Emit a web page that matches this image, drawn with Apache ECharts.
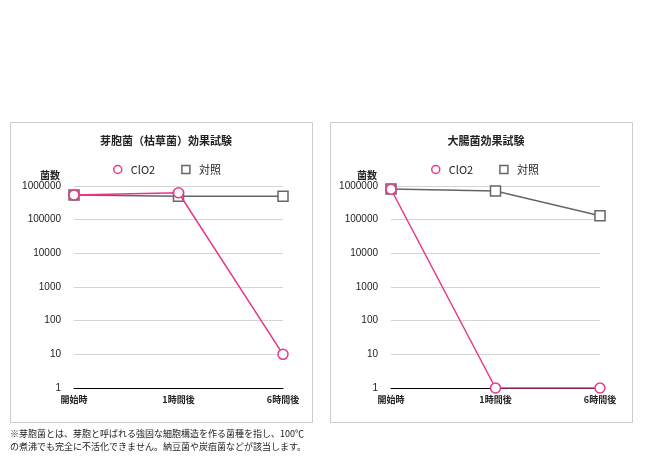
<!DOCTYPE html>
<html><head><meta charset="utf-8">
<script src="https://cdn.jsdelivr.net/npm/echarts@6/dist/echarts.min.js"></script>
<style>html,body{margin:0;padding:0;background:#fff}#c{width:650px;height:470px}</style>
</head><body><div id="c"></div>
<script>
const categories = ['開始時', '1時間後', '6時間後'];
const yTicks = [1, 10, 100, 1000, 10000, 100000, 1000000];
const titleA = '芽胞菌（枯草菌）効果試験';
const titleB = '大腸菌効果試験';
const clo2A = [540000, 630000, 10];
const ctrlA = [540000, 500000, 500000];
const clo2B = [800000, 1, 1];
const ctrlB = [820000, 710000, 130000];
const note1 = '※芽胞菌とは、芽胞と呼ばれる強固な細胞構造を作る菌種を指し、100℃';
const note2 = 'の煮沸でも完全に不活化できません。納豆菌や炭疽菌などが該当します。';

const FONT = '"Noto Sans CJK JP", "Liberation Sans", sans-serif';
const PINK = '#e8378a', GRAY = '#666666';
const chart = echarts.init(document.getElementById('c'), null, {renderer: 'canvas'});

function xAxis(i) {
  return {type: 'category', gridIndex: i, data: categories, boundaryGap: false,
    axisLine: {lineStyle: {color: '#000', width: 1}}, axisTick: {show: false},
    axisLabel: {color: '#222', fontSize: 9, fontWeight: 'bold', fontFamily: FONT, margin: 7}};
}
function yAxis(i) {
  return {type: 'log', logBase: 10, gridIndex: i, min: 1, max: 1000000,
    name: '菌数', nameLocation: 'end', nameGap: 6,
    nameTextStyle: {color: '#222', fontSize: 10, fontWeight: 'bold', fontFamily: FONT, align: 'center', padding: [0, 48, 0, 0]},
    axisLine: {show: false}, axisTick: {show: false},
    axisLabel: {color: '#222', fontSize: 10, fontFamily: '"Liberation Sans", sans-serif', margin: 13,
      formatter: v => yTicks.includes(Math.round(v)) ? String(Math.round(v)) : ''},
    splitLine: {lineStyle: {color: '#d4d4d4', width: 1}}};
}
function ser(name, data, i, sym, color) {
  return {name, type: 'line', xAxisIndex: i, yAxisIndex: i, data, symbol: sym, symbolSize: 10,
    lineStyle: {color, width: 1.5}, itemStyle: {color: '#fff', borderColor: color, borderWidth: 1.5},
    z: name === 'ClO2' ? 3 : 2};
}
function legend(left) {
  return {left, top: 159, itemWidth: 8, itemHeight: 8, itemGap: 26,
    textStyle: {fontSize: 11, color: '#222', fontFamily: FONT, padding: [0, 0, 0, 4]},
    data: [{name: 'ClO2', icon: 'circle', itemStyle: {color: '#fff', borderColor: PINK, borderWidth: 1.5}},
           {name: '対照', icon: 'rect', itemStyle: {color: '#fff', borderColor: GRAY, borderWidth: 1.5}}]};
}
chart.setOption({
  animation: false,
  title: [
    {text: titleA, left: 161, top: 130, textAlign: 'center', textStyle: {fontSize: 11, fontWeight: 'bold', color: '#222', fontFamily: FONT}},
    {text: titleB, left: 481, top: 130, textAlign: 'center', textStyle: {fontSize: 11, fontWeight: 'bold', color: '#222', fontFamily: FONT}}
  ],
  legend: [legend(108), legend(426)],
  grid: [
    {left: 74, width: 209, top: 186, height: 202},
    {left: 391, width: 209, top: 186, height: 202}
  ],
  xAxis: [xAxis(0), xAxis(1)],
  yAxis: [yAxis(0), yAxis(1)],
  series: [
    ser('対照', ctrlA, 0, 'rect', GRAY),
    ser('ClO2', clo2A, 0, 'circle', PINK),
    ser('対照', ctrlB, 1, 'rect', GRAY),
    ser('ClO2', clo2B, 1, 'circle', PINK)
  ],
  graphic: [
    {type: 'rect', shape: {x: 10.5, y: 122.5, width: 302, height: 300}, style: {fill: 'none', stroke: '#cccccc', lineWidth: 1}, silent: true, z: -1},
    {type: 'rect', shape: {x: 330.5, y: 122.5, width: 302, height: 300}, style: {fill: 'none', stroke: '#cccccc', lineWidth: 1}, silent: true, z: -1},
    {type: 'text', left: 10, top: 429, style: {text: note1, fontSize: 9, fill: '#222', fontFamily: FONT}},
    {type: 'text', left: 10, top: 442, style: {text: note2, fontSize: 9, fill: '#222', fontFamily: FONT}}
  ]
});
</script></body></html>
